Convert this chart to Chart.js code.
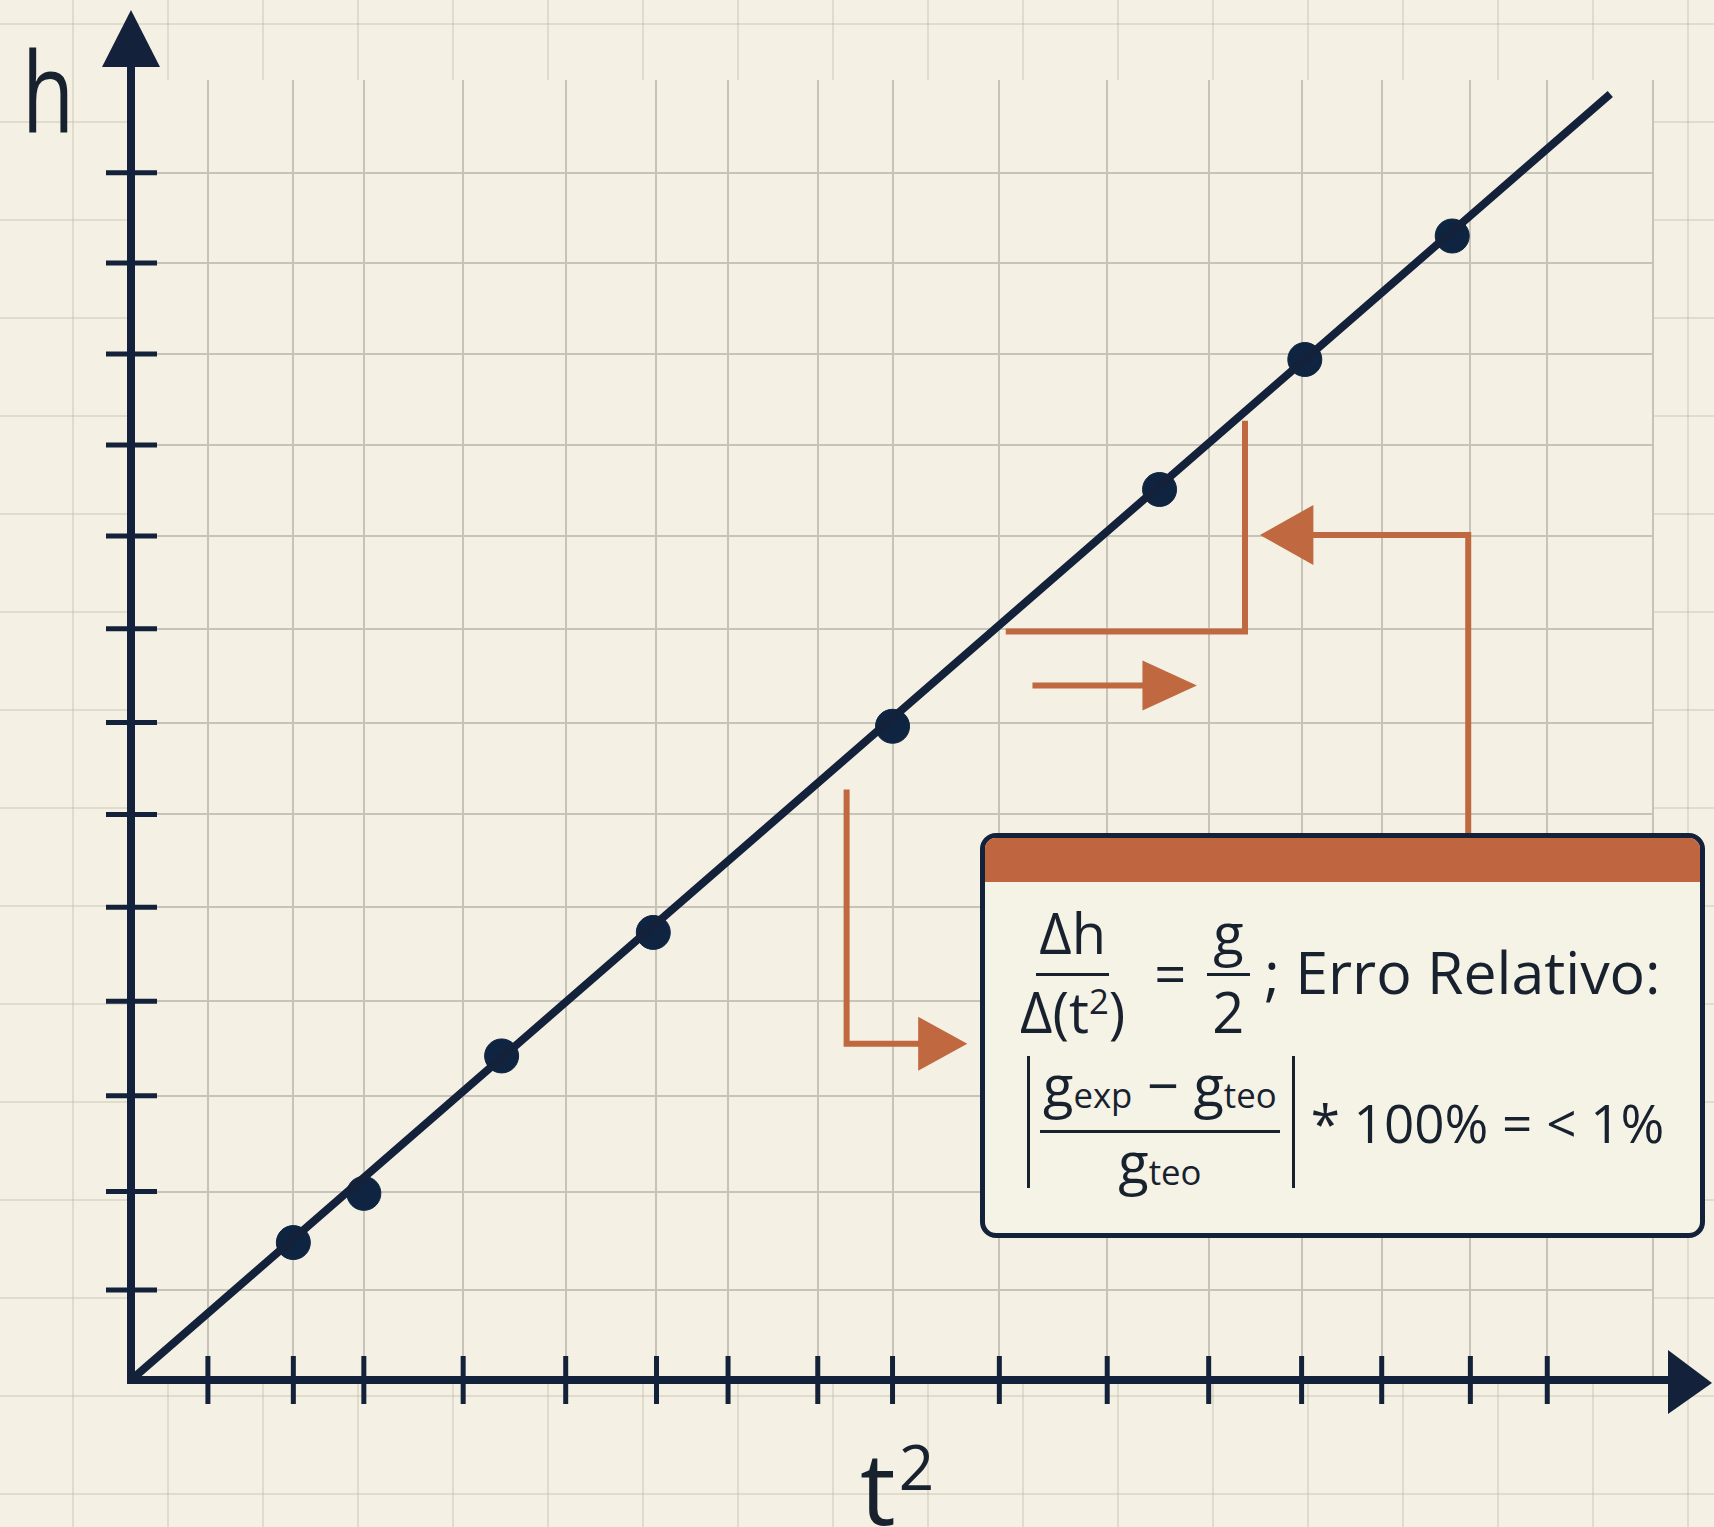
<!DOCTYPE html>
<html lang="pt">
<head>
<meta charset="UTF-8" />
<title>h x t²</title>
<script src="https://cdn.jsdelivr.net/npm/chart.js"></script>
<style>
    html, body { margin: 0; padding: 0; }
    body {
        width: 1714px; height: 1527px; overflow: hidden; position: relative;
        font-family: 'Open Sans', sans-serif; color: #18212e;
        background-color: #f4f1e4;
        background-image:
            linear-gradient(to right, rgba(180,172,150,0.30) 2px, transparent 2px),
            linear-gradient(to bottom, rgba(180,172,150,0.30) 2px, transparent 2px);
        background-size: 95px 98px;
        background-position: 72px 1297px;
    }
    #chart { position: absolute; left: 0; top: 0; }
    .lbl { position: absolute; line-height: 1; color: #18212e; transform-origin: left top; }
    .lbl .sup { font-size: 62px; position: relative; top: -35px; margin-left: 3px; }

    #box {
        position: absolute; left: 980px; top: 833px; width: 725px; height: 405px;
        box-sizing: border-box; border: 5px solid #14213a; border-radius: 16px;
        background: #f5f2e6; overflow: hidden;
    }
    #box .head { height: 44px; background: #bf6641; }
    #box .row { position: absolute; display: flex; align-items: center; font-size: 56px; line-height: 1; white-space: nowrap; }
    #box .r1 { left: 32px; top: 66px; }
    #box .r2 { left: 42px; top: 218px; }
    .frac { display: inline-flex; flex-direction: column; align-items: center; }
    .frac > span { padding-left: 3px; padding-right: 3px; }
    .frac > .num { border-bottom: 3px solid #18212e; padding-bottom: 13px; }
    .frac.wide > span { padding-left: 6px; padding-right: 6px; }
    .r1 .den { padding-top: 7px; }
    .r2 .num { padding-bottom: 18px; }
    .frac sup { font-size: 0.62em; line-height: 0; vertical-align: 0.55em; }
    .frac sub { font-size: 0.62em; line-height: 0; vertical-align: -0.06em; }
    .eq { margin: 0 20px 0 26px; }
    .semi { margin-left: 14px; font-size: 59px; }
    .abs { border-left: 3px solid #18212e; border-right: 3px solid #18212e; padding: 0 12px 0 10px; height: 132px; display: inline-flex; align-items: center; margin-right: 16px; }
    .tail { font-size: 53px; }
</style>
</head>
<body>
<canvas id="chart" width="1714" height="1527"></canvas>

<div class="lbl" style="left:22px; top:33px; font-size:112px; transform: scaleX(0.76);">h</div>
<div class="lbl" style="left:860px; top:1436px; font-size:100px;">t<span class="sup">2</span></div>

<div id="box">
    <div class="head"></div>
    <div class="row r1">
        <span class="frac"><span class="num">Δh</span><span class="den">Δ(t<sup>2</sup>)</span></span>
        <span class="eq">=</span>
        <span class="frac wide"><span class="num">g</span><span class="den">2</span></span>
        <span class="semi">; Erro Relativo:</span>
    </div>
    <div class="row r2">
        <span class="abs"><span class="frac"><span class="num">g<sub>exp</sub> − g<sub>teo</sub></span><span class="den">g<sub>teo</sub></span></span></span>
        <span class="tail">* 100% = &lt; 1%</span>
    </div>
</div>

<script>
    // t² (eixo x) e h (eixo y), unidades arbitrárias
    const t2 = [1.52, 2.18, 3.47, 4.89, 7.13, 9.63, 10.99, 12.37];
    const h = [1.48, 2.01, 3.49, 4.82, 7.04, 9.59, 10.99, 12.32];
    // reta ajustada
    const fitT2 = [0, 13.85];
    const fitH = [0, 13.85];
    // marcas dos eixos
    const tickX = [0.72, 1.52, 2.18, 3.11, 4.07, 4.92, 5.59, 6.43, 7.13, 8.13, 9.14, 10.09, 10.96, 11.71, 12.54, 13.26];
    const tickY = [0.97, 2.03, 3.06, 4.08, 5.09, 6.09, 7.08, 8.09, 9.09, 10.07, 11.05, 12.03, 13.0];
    const xMax = 14.25;
    const yMax = 14;

    const navy = '#13223a';
    const orange = '#c0683f';

    function seg(ctx, x1, y1, x2, y2) {
        ctx.beginPath(); ctx.moveTo(x1, y1); ctx.lineTo(x2, y2); ctx.stroke();
    }
    function tri(ctx, a, b, c) {
        ctx.beginPath(); ctx.moveTo(a[0], a[1]); ctx.lineTo(b[0], b[1]); ctx.lineTo(c[0], c[1]); ctx.closePath(); ctx.fill();
    }

    const paperPlugin = {
        id: 'paper',
        beforeDraw(chart) {
            const { ctx, chartArea: a } = chart;
            ctx.save();
            ctx.fillStyle = '#f4f1e4';
            ctx.fillRect(a.left, a.top, a.right - a.left, a.bottom - a.top);
            ctx.restore();
        }
    };

    const axesPlugin = {
        id: 'axes',
        beforeDatasetsDraw(chart) {
            const { ctx, scales: { x, y } } = chart;
            const x0 = x.getPixelForValue(0), y0 = y.getPixelForValue(0);
            ctx.save();
            ctx.strokeStyle = navy; ctx.fillStyle = navy;
            ctx.lineWidth = 5;
            tickY.forEach(v => { const p = y.getPixelForValue(v); seg(ctx, x0 - 25, p, x0 + 26, p); });
            tickX.forEach(v => { const p = x.getPixelForValue(v); seg(ctx, p, y0 - 24, p, y0 + 24); });
            ctx.lineWidth = 8;
            seg(ctx, x0, y0 + 4, x0, 64);
            seg(ctx, x0 - 4, y0, chart.width - 44, y0);
            tri(ctx, [x0, 10], [x0 - 29, 67], [x0 + 29, 67]);
            tri(ctx, [chart.width - 2, y0 + 3], [chart.width - 46, y0 - 30], [chart.width - 46, y0 + 34]);
            ctx.restore();
        }
    };

    const notesPlugin = {
        id: 'notes',
        afterDraw(chart) {
            const { ctx, scales: { x, y } } = chart;
            const X = v => x.getPixelForValue(v), Y = v => y.getPixelForValue(v);
            ctx.save();
            ctx.strokeStyle = orange; ctx.fillStyle = orange;
            ctx.lineWidth = 6; ctx.lineJoin = 'miter';
            // colchete sob a reta
            ctx.beginPath();
            ctx.moveTo(X(10.43), Y(10.33)); ctx.lineTo(X(10.43), Y(8.06)); ctx.lineTo(X(8.19), Y(8.06));
            ctx.stroke();
            // seta pequena para a direita
            seg(ctx, X(8.44), Y(7.48), X(9.5), Y(7.48));
            tri(ctx, [X(9.98), Y(7.48)], [X(9.47), Y(7.48) - 25], [X(9.47), Y(7.48) + 25]);
            // seta da caixa para o colchete
            ctx.beginPath();
            ctx.moveTo(X(12.52), Y(5.89)); ctx.lineTo(X(12.52), Y(9.10)); ctx.lineTo(X(11.05), Y(9.10));
            ctx.stroke();
            tri(ctx, [X(10.57), Y(9.10)], [X(11.07), Y(9.10) - 30], [X(11.07), Y(9.10) + 30]);
            // seta da reta para a caixa
            ctx.beginPath();
            ctx.moveTo(X(6.70), Y(6.36)); ctx.lineTo(X(6.70), Y(3.62)); ctx.lineTo(X(7.40), Y(3.62));
            ctx.stroke();
            tri(ctx, [X(7.83), Y(3.62)], [X(7.37), Y(3.62) - 27], [X(7.37), Y(3.62) + 27]);
            ctx.restore();
        }
    };

    new Chart(document.getElementById('chart'), {
        type: 'scatter',
        data: {
            datasets: [
                {
                    type: 'line',
                    data: fitT2.map((v, i) => ({ x: v, y: fitH[i] })),
                    borderColor: navy,
                    borderWidth: 8,
                    pointRadius: 0,
                    clip: false
                },
                {
                    data: t2.map((v, i) => ({ x: v, y: h[i] })),
                    backgroundColor: '#0e2440',
                    borderColor: '#0e2440',
                    pointRadius: 17,
                    clip: false
                }
            ]
        },
        options: {
            responsive: false,
            animation: false,
            layout: { padding: { left: 131, top: 80, right: 61, bottom: 147 } },
            plugins: { legend: { display: false }, tooltip: { enabled: false } },
            scales: {
                x: {
                    type: 'linear', min: 0, max: xMax,
                    afterBuildTicks: s => { s.ticks = tickX.concat([xMax]).map(v => ({ value: v })); },
                    ticks: { display: false },
                    grid: { color: '#c6c4b8', lineWidth: 2, drawTicks: false },
                    border: { display: false }
                },
                y: {
                    type: 'linear', min: 0, max: yMax,
                    afterBuildTicks: s => { s.ticks = tickY.map(v => ({ value: v })); },
                    ticks: { display: false },
                    grid: { color: '#c6c4b8', lineWidth: 2, drawTicks: false },
                    border: { display: false }
                }
            }
        },
        plugins: [paperPlugin, axesPlugin, notesPlugin]
    });
</script>
</body>
</html>
